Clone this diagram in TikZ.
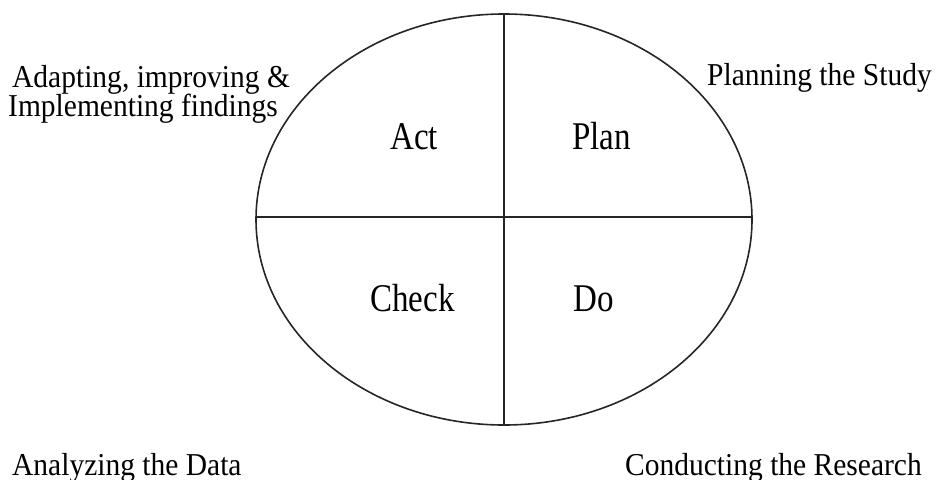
\documentclass[tikz,border=0pt]{standalone}
\usepackage{fontspec}
\setmainfont{Liberation Serif}
\usetikzlibrary{shapes.geometric}
\begin{document}
\begin{tikzpicture}[x=1pt,y=-1pt,
  bigtxt/.style={inner sep=0pt, anchor=base west, yscale=1.19, font=\fontsize{33}{40}\selectfont},
  sidetxt/.style={inner sep=0pt, anchor=base west, yscale=1.08, font=\fontsize{29.5}{35}\selectfont},
  ln/.style={line width=1.6pt, black!85}]
\useasboundingbox (0,0) rectangle (936,479);
\node[draw, ln, ellipse, minimum width=496pt, minimum height=411pt, inner sep=0pt] (E) at (504,219.5) {};
\coordinate (T) at (504,13.5);
\coordinate (B) at (504,425.5);
\coordinate (L) at (256,217);
\coordinate (R) at (752,217);
\draw[ln] (T) -- (B);
\draw[ln] (L) -- (R);
\node[bigtxt] (act) at (390,149) {Act};
\node[bigtxt] (plan) at (572,149) {Plan};
\node[bigtxt] (check) at (370,311) {Check};
\node[bigtxt] (do) at (573,311) {Do};
\node[sidetxt] (a1) at (12,87) {Adapting, improving \&};
\node[sidetxt] (a2) at (8,116) {Implementing findings};
\node[sidetxt] (ps) at (707,85) {Planning the Study};
\node[sidetxt] (ad) at (12,475) {Analyzing the Data};
\node[sidetxt] (cr) at (625,475) {Conducting the Research};
\end{tikzpicture}
\end{document}
